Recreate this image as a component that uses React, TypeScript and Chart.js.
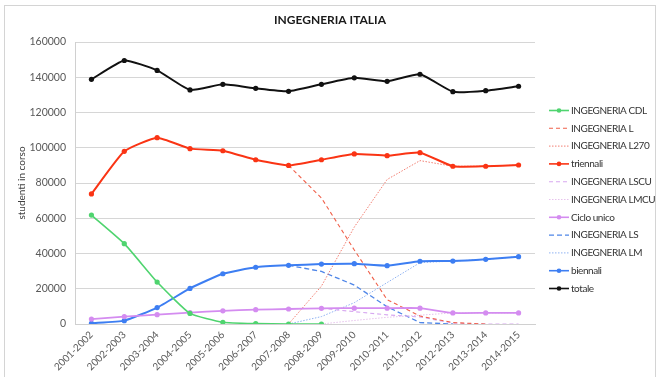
import React, { useEffect, useRef } from 'react';
import { Chart, registerables } from 'chart.js';

Chart.register(...registerables);

const categories = [
  '2001-2002', '2002-2003', '2003-2004', '2004-2005', '2005-2006', '2006-2007', '2007-2008',
  '2008-2009', '2009-2010', '2010-2011', '2011-2012', '2012-2013', '2013-2014', '2014-2015',
];

const cdl = [61800, 45600, 23800, 6000, 1000, 200, 0, 0, null, null, null, null, null, null];
const ingL = [null, null, null, null, null, null, 90000, 71500, 42000, 13800, 4500, 800, 0, null];
const ingL270 = [null, null, null, null, null, null, 0, 21500, 55000, 82000, 92700, 89500, 89500, 90200];
const triennali = [73800, 98000, 105700, 99500, 98300, 93200, 90000, 93200, 96500, 95500, 97200, 89500, 89500, 90200];
const ingLSCU = [null, null, null, null, null, null, null, 8900, 7000, 5200, 4000, 500, 0, 0];
const ingLMCU = [null, null, null, null, null, null, null, 0, 2000, 3800, 5000, 6300, 6300, 6300];
const cicloUnico = [2800, 4200, 5300, 6400, 7500, 8100, 8500, 8900, 9000, 9000, 9000, 6300, 6300, 6300];
const ingLS = [null, null, null, null, null, null, 33300, 29800, 22100, 9800, 800, 0, null, null];
const ingLM = [null, null, null, null, null, null, 0, 4200, 12100, 23500, 34800, 35700, 36700, 38200];
const biennali = [400, 1900, 9300, 20200, 28500, 32200, 33300, 34000, 34200, 33100, 35600, 35700, 36700, 38200];
const totale = [138800, 149500, 143900, 132800, 136000, 133700, 132000, 136000, 139700, 137700, 141700, 131800, 132400, 134900];

const yTicks = [0, 20000, 40000, 60000, 80000, 100000, 120000, 140000, 160000];

const FONT = 'Lato, "Open Sans", sans-serif';

type Series = {
  label: string;
  data: (number | null)[];
  color: string;
  width: number;
  dash: number[];
  marker: boolean;
};

const series: Series[] = [
  { label: 'INGEGNERIA CDL', data: cdl, color: '#4fd46f', width: 1.6, dash: [], marker: true },
  { label: 'INGEGNERIA L', data: ingL, color: '#f0604a', width: 1.1, dash: [4, 3], marker: false },
  { label: 'INGEGNERIA L270', data: ingL270, color: '#f27f72', width: 1, dash: [1.5, 1.5], marker: false },
  { label: 'triennali', data: triennali, color: '#fa3414', width: 2, dash: [], marker: true },
  { label: 'INGEGNERIA LSCU', data: ingLSCU, color: '#d7a8f0', width: 1.1, dash: [4, 3], marker: false },
  { label: 'INGEGNERIA LMCU', data: ingLMCU, color: '#e6c2ec', width: 1, dash: [1.5, 1.5], marker: false },
  { label: 'Ciclo unico', data: cicloUnico, color: '#d48cf0', width: 1.8, dash: [], marker: true },
  { label: 'INGEGNERIA LS', data: ingLS, color: '#4f86e8', width: 1.3, dash: [5, 3], marker: false },
  { label: 'INGEGNERIA LM', data: ingLM, color: '#8fb2f2', width: 1, dash: [1.5, 1.5], marker: false },
  { label: 'biennali', data: biennali, color: '#3d7ef2', width: 2, dash: [], marker: true },
  { label: 'totale', data: totale, color: '#111111', width: 2, dash: [], marker: true },
];

const headerPlugin = {
  id: 'header',
  afterDraw(chart: any) {
    const { ctx, width } = chart;
    ctx.save();
    ctx.fillStyle = '#1a1a1a';
    ctx.font = `bold 12px ${FONT}`;
    ctx.textAlign = 'center';
    ctx.textBaseline = 'middle';
    ctx.fillText('INGEGNERIA ITALIA', width / 2 + 1, 20);
    ctx.restore();
  },
};

const sideLegendPlugin = {
  id: 'sideLegend',
  afterDraw(chart: any) {
    const { ctx, chartArea } = chart;
    const x0 = chartArea.right + 14;
    const x1 = x0 + 20;
    const step = 17.8;
    let y = chartArea.top + 68.5;
    ctx.save();
    ctx.font = `10px ${FONT}`;
    if ('letterSpacing' in ctx) (ctx as any).letterSpacing = '-0.45px';
    ctx.textBaseline = 'middle';
    ctx.textAlign = 'left';
    chart.data.datasets.forEach((ds: any, i: number) => {
      const s = series[i];
      ctx.strokeStyle = s.color;
      ctx.lineWidth = s.marker ? 1.6 : s.width;
      ctx.setLineDash(s.dash);
      ctx.beginPath();
      ctx.moveTo(x0, y);
      ctx.lineTo(x1, y);
      ctx.stroke();
      ctx.setLineDash([]);
      if (s.marker) {
        ctx.fillStyle = s.color;
        ctx.beginPath();
        ctx.arc((x0 + x1) / 2, y, 2.3, 0, Math.PI * 2);
        ctx.fill();
      }
      ctx.fillStyle = '#333333';
      ctx.fillText(ds.label, x1 + 2, y);
      y += step;
    });
    ctx.restore();
  },
};

export default function App() {
  const canvasRef = useRef<HTMLCanvasElement | null>(null);

  useEffect(() => {
    const canvas = canvasRef.current;
    if (!canvas) return;
    const chart = new Chart(canvas, {
      type: 'line',
      data: {
        labels: categories,
        datasets: series.map((s) => ({
          label: s.label,
          data: s.data,
          borderColor: s.color,
          backgroundColor: s.color,
          borderWidth: s.width,
          borderDash: s.dash,
          pointRadius: s.marker ? 2.6 : 0,
          pointHoverRadius: s.marker ? 3 : 0,
          pointBorderWidth: 0,
          pointBackgroundColor: s.color,
          tension: s.marker ? 0.15 : 0,
          spanGaps: false,
          fill: false,
          order: s.marker ? 0 : 1,
        })),
      },
      options: {
        responsive: false,
        animation: false,
        devicePixelRatio: 1,
        layout: { padding: { top: 42, right: 123, bottom: 0, left: 0 } },
        plugins: {
          legend: { display: false },
          title: { display: false },
          tooltip: { enabled: false },
        },
        scales: {
          x: {
            type: 'category',
            offset: true,
            grid: { display: false, drawTicks: false },
            border: { display: true, color: '#d0d0d0', width: 1 },
            ticks: {
              autoSkip: false,
              maxRotation: 45,
              minRotation: 45,
              padding: 5,
              color: '#595959',
              font: { family: FONT, size: 10 },
            },
            afterFit(scale: any) {
              scale.height = 53;
            },
          },
          y: {
            min: 0,
            max: 160000,
            afterBuildTicks(scale: any) {
              scale.ticks = yTicks.map((v) => ({ value: v }));
            },
            grid: { color: '#d6d6d6', lineWidth: 1, drawTicks: false },
            border: { display: true, color: '#d0d0d0', width: 1 },
            ticks: {
              padding: 9,
              color: '#595959',
              font: { family: FONT, size: 10.5 },
              callback: (v: any) => String(v),
            },
            title: {
              display: true,
              text: 'studenti in corso',
              color: '#404040',
              font: { family: FONT, size: 10 },
              padding: { top: 16, bottom: 0 },
            },
            afterFit(scale: any) {
              scale.width = 75;
            },
          },
        },
      },
      plugins: [headerPlugin, sideLegendPlugin],
    });
    return () => chart.destroy();
  }, []);

  return (
    <div style={{ position: 'absolute', left: 0, top: 0, width: 658, height: 377, background: '#ffffff', overflow: 'hidden' }}>
      <div
        style={{
          position: 'absolute',
          left: 4,
          top: 5,
          width: 652,
          height: 380,
          border: '1px solid #d4d4d4',
          boxSizing: 'border-box',
        }}
      />
      <canvas
        ref={canvasRef}
        width={658}
        height={377}
        style={{ position: 'absolute', left: 0, top: 0, width: 658, height: 377 }}
      />
    </div>
  );
}
